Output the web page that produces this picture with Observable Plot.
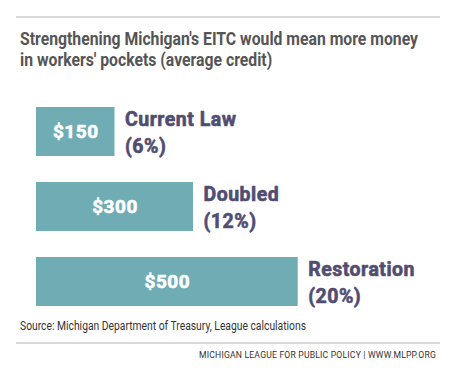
<!DOCTYPE html>
<html>
<head>
<meta charset="utf-8">
<script src="https://cdn.jsdelivr.net/npm/d3@7"></script>
<script src="https://cdn.jsdelivr.net/npm/@observablehq/plot@0.6"></script>
<style>
  html, body { margin: 0; padding: 0; background: #fff; }
  #wrap { position: relative; width: 459px; height: 377px; overflow: hidden; font-family: Roboto, "Noto Sans", sans-serif; }
  .rule { position: absolute; left: 16px; width: 424px; height: 2px; background: #d9d9d9; }
  .sq { position: absolute; white-space: nowrap; transform-origin: 0 0; }
  #title { left: 20px; top: 28px; font-size: 18px; line-height: 21px; font-weight: 700; color: #555557; }
  #source { left: 20px; top: 319px; font-size: 12px; line-height: 14px; color: #333; }
  #footer { top: 350px; font-size: 9px; line-height: 10px; color: #333; letter-spacing: 0.2px; }
  #chart { position: absolute; left: 0; top: 90px; }
  #chart text { letter-spacing: 0.5px; }
</style>
</head>
<body>
<div id="wrap">
  <div class="rule" style="top:16px"></div>
  <div id="title" class="sq"><span id="t1">Strengthening Michigan's EITC would mean more money</span><br><span>in workers' pockets (average credit)</span></div>
  <div id="chart"></div>
  <div id="source" class="sq">Source: Michigan Department of Treasury, League calculations</div>
  <div class="rule" style="top:342px"></div>
  <div id="footer" class="sq">MICHIGAN LEAGUE FOR PUBLIC POLICY | WWW.MLPP.ORG</div>
</div>
<script>
const categories = ["Current Law", "Doubled", "Restoration"];
const credits = [150, 300, 500];
const percents = ["6%", "12%", "20%"];

const data = categories.map((c, i) => ({name: c, value: credits[i], pct: percents[i]}));

const barColor = "#70acb4";
const labelColor = "#514d72";

const chart = Plot.plot({
  width: 459,
  height: 225,
  marginLeft: 0,
  marginRight: 0,
  marginTop: 0,
  marginBottom: 0,
  style: {background: "transparent", fontFamily: "Roboto, sans-serif"},
  x: {domain: [0, 500], range: [36, 297.7], axis: null},
  y: {domain: categories, range: [17, 216], paddingInner: 0.347, paddingOuter: 0, axis: null},
  marks: [
    Plot.barX(data, {x: "value", y: "name", fill: barColor}),
    Plot.text(data, {
      x: d => d.value / 2, y: "name",
      text: d => "$" + d.value,
      fill: "white", stroke: "white", strokeWidth: 0.6, paintOrder: "normal",
      fontSize: 19, fontWeight: 700, textAnchor: "middle"
    }),
    Plot.text(data, {
      x: "value", y: "name",
      text: d => d.name + "\n(" + d.pct + ")",
      dx: 10, dy: -1, textAnchor: "start", lineAnchor: "middle", lineHeight: 1.35,
      fill: labelColor, stroke: labelColor, strokeWidth: 0.6, paintOrder: "normal",
      fontSize: 19.5, fontWeight: 700
    })
  ]
});
document.getElementById("chart").appendChild(chart);

function squeeze(id, target, rightEdge) {
  const el = document.getElementById(id);
  const w = el.getBoundingClientRect().width;
  const s = target / w;
  el.style.transform = "scaleX(" + s + ")";
  if (rightEdge != null) el.style.left = (rightEdge - target) + "px";
}
const t1 = document.getElementById("t1").getBoundingClientRect().width;
document.getElementById("title").style.transform = "scaleX(" + (398 / t1) + ")";
squeeze("source", 286);
squeeze("footer", 237, 436);
</script>
</body>
</html>
